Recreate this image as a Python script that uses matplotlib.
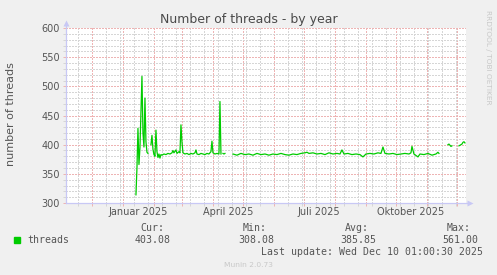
import numpy as np
import pandas as pd
import matplotlib
matplotlib.use("Agg")
import matplotlib.pyplot as plt
import matplotlib.dates as mdates
import matplotlib.transforms as mtransforms
from matplotlib.patches import Rectangle

nan = np.nan

# daily values (nan = no data)
days = [
    "2025-01-14", "2025-01-15", "2025-01-16", "2025-01-17", "2025-01-18",
    "2025-01-19", "2025-01-20", "2025-01-21", "2025-01-22", "2025-01-23",
    "2025-01-24", "2025-01-25", "2025-01-26", "2025-01-27", "2025-01-28",
    "2025-01-29", "2025-01-30", "2025-01-31", "2025-02-01", "2025-02-02",
    "2025-02-03", "2025-02-04", "2025-02-05", "2025-02-06", "2025-02-07",
    "2025-02-08", "2025-02-09", "2025-02-11", "2025-02-13", "2025-02-15",
    "2025-02-17", "2025-02-19", "2025-02-20", "2025-02-21", "2025-02-23",
    "2025-02-24", "2025-02-26", "2025-02-27", "2025-02-28", "2025-03-01",
    "2025-03-02", "2025-03-04", "2025-03-06", "2025-03-08", "2025-03-10",
    "2025-03-12", "2025-03-14", "2025-03-15", "2025-03-16", "2025-03-18",
    "2025-03-20", "2025-03-22", "2025-03-24", "2025-03-26", "2025-03-28",
    "2025-03-30", "2025-03-31", "2025-04-01", "2025-04-03", "2025-04-05",
    "2025-04-07", "2025-04-08", "2025-04-09", "2025-04-10", "2025-04-11",
    "2025-04-12", "2025-04-13", "2025-04-14", "2025-04-21", "2025-04-25",
    "2025-04-29", "2025-05-03", "2025-05-07", "2025-05-11", "2025-05-15",
    "2025-05-19", "2025-05-23", "2025-05-27", "2025-05-31", "2025-06-04",
    "2025-06-08", "2025-06-12", "2025-06-16", "2025-06-20", "2025-06-24",
    "2025-06-28", "2025-07-02", "2025-07-04", "2025-07-06", "2025-07-10",
    "2025-07-14", "2025-07-18", "2025-07-22", "2025-07-26", "2025-07-30",
    "2025-08-03", "2025-08-06", "2025-08-08", "2025-08-10", "2025-08-14",
    "2025-08-18", "2025-08-22", "2025-08-26", "2025-08-29", "2025-09-01",
    "2025-09-05", "2025-09-09", "2025-09-13", "2025-09-16", "2025-09-18",
    "2025-09-20", "2025-09-24", "2025-09-28", "2025-10-02", "2025-10-06",
    "2025-10-10", "2025-10-14", "2025-10-16", "2025-10-17", "2025-10-19",
    "2025-10-23", "2025-10-25", "2025-10-29", "2025-11-02", "2025-11-06",
    "2025-11-10", "2025-11-12", "2025-11-13", "2025-11-14", "2025-11-22",
    "2025-11-23", "2025-11-24", "2025-11-25", "2025-11-26", "2025-11-27",
    "2025-12-03", "2025-12-04", "2025-12-05", "2025-12-06", "2025-12-07",
    "2025-12-08", "2025-12-09",
]
threads = [
    314, 360, 428, 366, 395,
    455, 517, 420, 396, 480,
    405, 387, 385, nan, nan,
    400, 416, 392, 383, 380,
    425, 388, 378, 384, 377,
    383, 382, 384, 383, 385,
    384, 386, 390, 386, 391,
    385, 388, 386, 434, 405,
    386, 384, 385, 383, 385,
    384, 386, 391, 384, 383,
    385, 384, 383, 385, 384,
    388, 406, 386, 384, 385,
    384, 474, 384, nan, 385,
    384, 385, nan, 384, 382,
    385, 383, 384, 382, 385,
    383, 384, 382, 384, 383,
    385, 383, 382, 384, 383,
    385, 386, 387, 385, 386,
    384, 385, 383, 386, 384,
    385, 384, 391, 384, 385,
    383, 384, 383, 379, 384,
    385, 384, 386, 385, 396,
    385, 384, 385, 383, 384,
    385, 384, 386, 397, 384,
    379, 384, 383, 385, 382,
    384, 387, 385, nan, 400,
    401, 399, 397, 398, nan,
    398, 399, 400, 401, 404,
    405, 403,
]

label_months = ["2025-01-01", "2025-04-01", "2025-07-01", "2025-10-01"]
label_names = ["Januar 2025", "April 2025", "Juli 2025", "Oktober 2025"]

cur_val, min_val, avg_val, max_val = 403.08, 308.08, 385.85, 561.00
last_update = "Wed Dec 10 01:00:30 2025"

start = pd.Timestamp("2024-11-05 01:00")
end = pd.Timestamp("2025-12-10 01:00")

W, H = 497, 275
GREEN = "#00CC00"
TXT = "#555555"
AXIS = "#C8C8F5"
MINOR = "#D6D6D6"
MAJOR = "#EEB4B4"

fig = plt.figure(figsize=(W / 100, H / 100), dpi=100, facecolor="#F0F0F0")
ax = fig.add_axes([66 / W, 1 - 203 / H, 400 / W, 175 / H])
ax.set_facecolor("white")

x = pd.to_datetime(days)
ax.plot(x, threads, color=GREEN, lw=0.9)

ax.set_xlim(start, end)
ax.set_ylim(300, 600)

# grid
ax.set_yticks(np.arange(300, 601, 50))
ax.set_yticks(np.arange(300, 601, 10), minor=True)
ax.xaxis.set_major_locator(mdates.MonthLocator(bymonthday=1))
ax.set_xticks(pd.date_range("2024-11-17", end, freq="14D"), minor=True)
ax.set_axisbelow(True)
ax.grid(which="minor", color=MINOR, lw=0.72, linestyle=(0, (1.5, 1.5)),
        antialiased=False)
ax.grid(which="major", color=MAJOR, lw=0.72, linestyle=(0, (1.5, 1.5)),
        antialiased=False)

ax.tick_params(axis="both", which="major", length=2.2, width=0.72, color=MAJOR)
ax.tick_params(axis="both", which="minor", length=2.2, width=0.72, color=MINOR)
ax.tick_params(axis="x", which="both", labelbottom=False)
ax.tick_params(axis="y", which="major", labelsize=7, labelcolor=TXT, pad=2.2)

for s in ax.spines.values():
    s.set_visible(False)

# axis lines with arrows
ax.plot([0, 0], [0, 1.02], color=AXIS, lw=0.9, transform=ax.transAxes, clip_on=False)
ax.plot([0, 1.01], [0, 0], color=AXIS, lw=0.9, transform=ax.transAxes, clip_on=False)
ax.plot([0], [1.03], marker="^", ms=4, color=AXIS, mec="none",
        transform=ax.transAxes, clip_on=False)
ax.plot([1.01], [0], marker=">", ms=4, color=AXIS, mec="none",
        transform=ax.transAxes, clip_on=False)

# month labels, centred in their month like rrdtool does
trans = mtransforms.blended_transform_factory(ax.transData, ax.transAxes)
for m, name in zip(label_months, label_names):
    pos = pd.Timestamp(m) + pd.Timedelta(days=15)
    ax.text(pos, -9 / 175, name, transform=trans, ha="center", va="center",
            fontsize=7, color=TXT)

fig.text(248.5 / W, 1 - 19 / H, "Number of threads - by year", ha="center",
         va="center", fontsize=9, color="#4A4A4A")
fig.text(11.5 / W, 1 - 114 / H, "number of threads", rotation=90, ha="center",
         va="center", fontsize=8, color=TXT)
fig.text(488 / W, 1 - 57 / H, "RRDTOOL / TOBI OETIKER", rotation=270, ha="center",
         va="center", fontsize=5.3, color="#C8C8C8")
fig.text(248 / W, 1 - 265 / H, "Munin 2.0.73", ha="center", va="center",
         fontsize=5.4, color="#C8C8C8")

# legend
fig.patches.append(Rectangle((14 / W, 1 - 243 / H), 6 / W, 6 / H,
                             transform=fig.transFigure, color=GREEN))
mono = dict(family="DejaVu Sans Mono", fontsize=7.1, color=TXT, va="center")
fig.text(27 / W, 1 - 240 / H, "threads", ha="left", **mono)
cols = [("Cur:", cur_val, 163), ("Min:", min_val, 266),
        ("Avg:", avg_val, 368), ("Max:", max_val, 470)]
for lab, val, xr in cols:
    fig.text((xr + 1) / W, 1 - 228 / H, lab, ha="right", **mono)
    fig.text((xr + 8) / W, 1 - 240 / H, f"{val:.2f}", ha="right", **mono)
fig.text(483 / W, 1 - 252 / H, "Last update: " + last_update, ha="right", **mono)

fig.savefig("out.png", dpi=100, facecolor=fig.get_facecolor())
